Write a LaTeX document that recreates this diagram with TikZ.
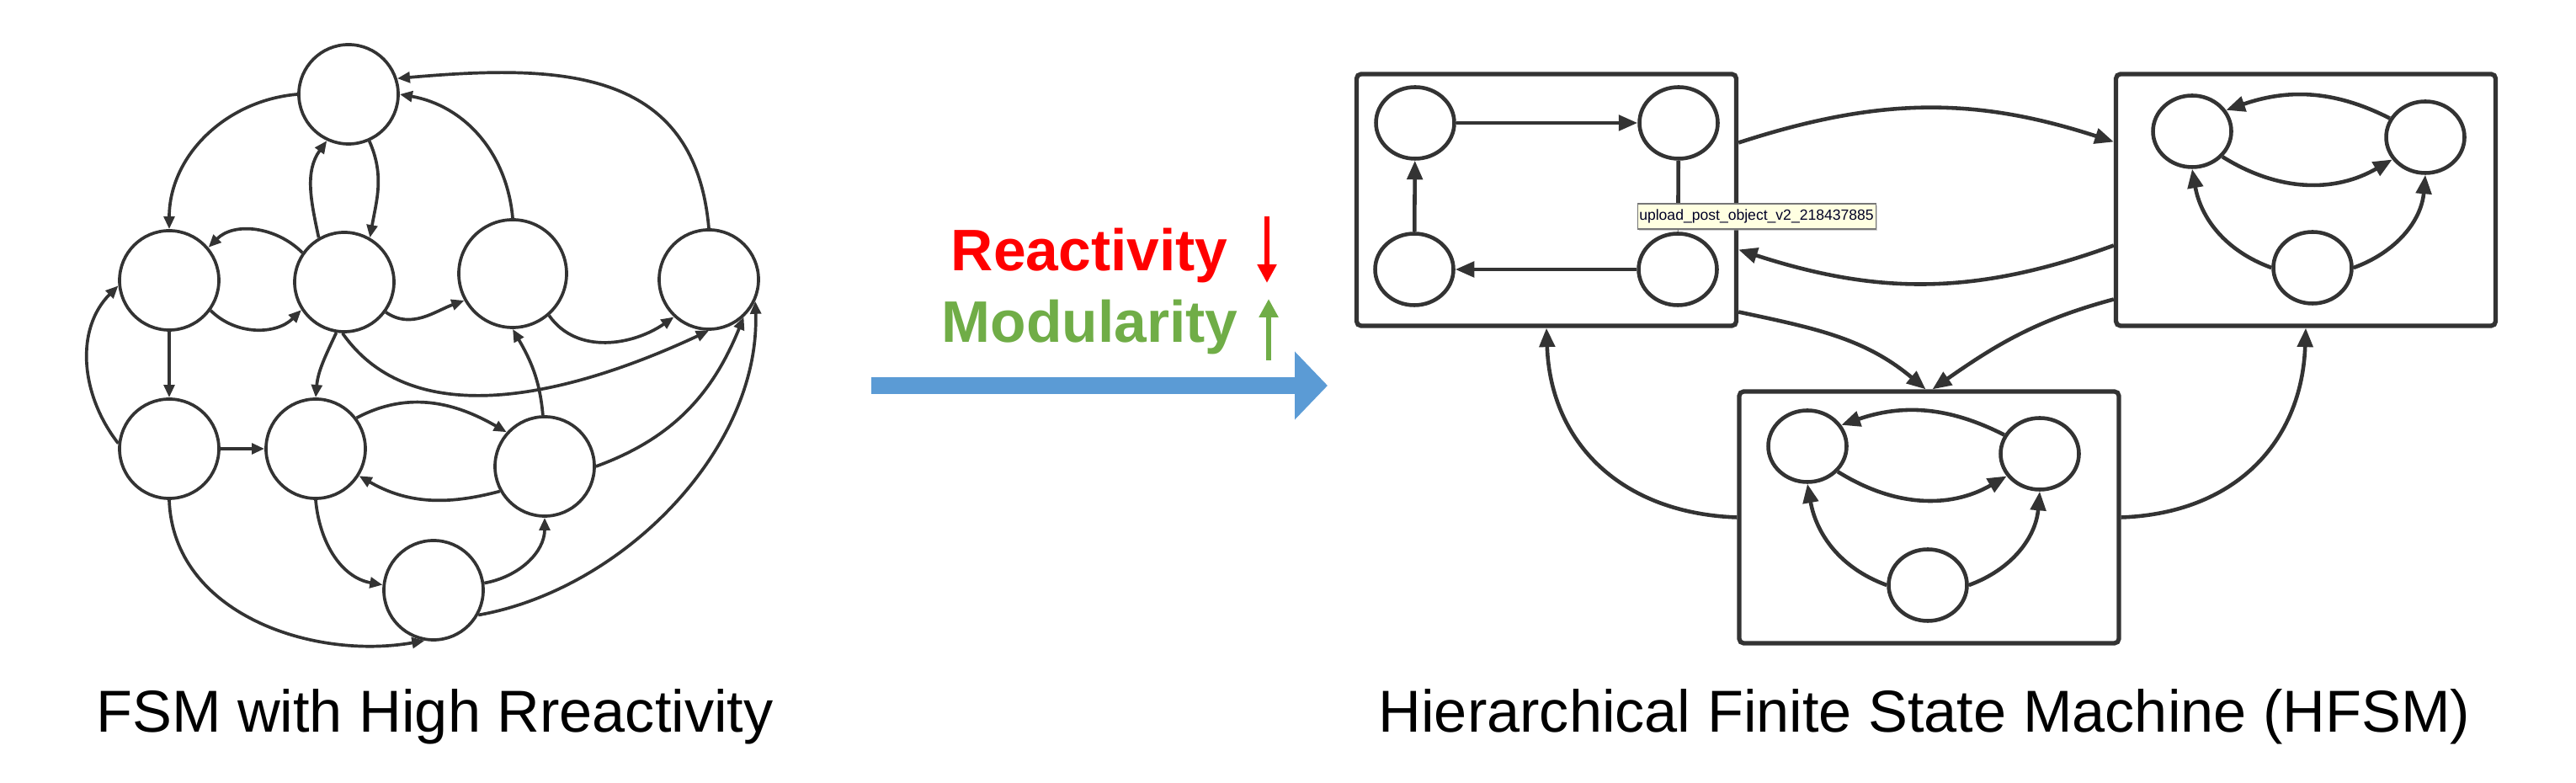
\documentclass[tikz,border=0pt]{standalone}
\usepackage{fontspec}
\setmainfont{Liberation Sans}
\usetikzlibrary{arrows.meta,positioning,shapes.geometric,shadows}

\definecolor{linegray}{HTML}{333333}
\definecolor{flowblue}{HTML}{5B9BD5}
\definecolor{modgreen}{HTML}{70AD47}
\definecolor{tipyellow}{HTML}{FFFFE1}
\definecolor{tipborder}{HTML}{767676}

\begin{document}
\begin{tikzpicture}[
    fsm/.style={circle, draw=linegray, fill=white, line width=1.05pt, minimum size=1.18cm, inner sep=0pt},
    fsmarrow/.style={-{Triangle[length=4.3pt, width=3.6pt]}, line width=1.05pt, draw=linegray},
    box/.style={draw=linegray, line width=1.5pt, rounded corners=1.5pt, minimum width=4.51cm, minimum height=2.99cm, inner sep=0pt},
    sub/.style={ellipse, draw=linegray, line width=1.3pt, minimum width=0.93cm, minimum height=0.85cm, inner sep=0pt},
    harrow/.style={-{Triangle[length=6.4pt, width=5.2pt]}, line width=1.3pt, draw=linegray},
    caption/.style={font=\fontsize{20}{24}\selectfont, anchor=base},
    trend/.style={font=\fontsize{19.8}{24}\selectfont\bfseries, anchor=base east},
    tooltip/.style={draw=tipborder, fill=tipyellow, line width=0.3pt, font=\fontsize{5}{6}\selectfont, text=black!85!blue, minimum width=2.83cm, minimum height=0.3cm, inner sep=0pt, drop shadow={shadow xshift=0.5pt, shadow yshift=-0.5pt, fill=black!35}}
]
    \useasboundingbox (0,0) rectangle (30.6,9.3);

    % FSM states
    \node[fsm] (t) at (4.14, 8.18) {};
    \node[fsm] (a) at (2.01, 5.97) {};
    \node[fsm] (b) at (4.09, 5.95) {};
    \node[fsm, minimum size=1.28cm] (c) at (6.09, 6.05) {};
    \node[fsm] (d) at (8.42, 5.98) {};
    \node[fsm] (e) at (2.01, 3.97) {};
    \node[fsm] (f) at (3.75, 3.97) {};
    \node[fsm] (g) at (6.47, 3.76) {};
    \node[fsm] (h) at (5.15, 2.29) {};

    % FSM transitions
    \draw[fsmarrow] (t.west) to[out=185, in=90] (a.north);
    \draw[fsmarrow] (b.120) to[out=102, in=234] (t.245);
    \draw[fsmarrow] (t.-66) to[out=-66, in=80] (b.60);
    \draw[fsmarrow] (b.145) to[out=135, in=45] (a.40);
    \draw[fsmarrow] (a.-36) to[out=-45, in=225] (b.213);
    \draw[fsmarrow] (c.north) to[out=95, in=-10] (t.east);
    \draw[fsmarrow] (d.north) to[out=95, in=5, looseness=1.2] (t.18);
    \draw[fsmarrow] (b.-36) to[out=-35, in=200] (c.209);
    \draw[fsmarrow] (c.-49) to[out=-55, in=215] (d.227);
    \draw[fsmarrow] (b.-92) to[out=-55, in=-155, looseness=0.92] (d.south);
    \draw[fsmarrow] (b.-99) to[out=-115, in=85] (f.north);
    \draw[fsmarrow] (a) -- (e);
    \draw[fsmarrow] (e.174) to[out=128, in=225] (a.186);
    \draw[fsmarrow] (e) -- (f);
    \draw[fsmarrow] (f.37) to[out=28, in=150] (g.138);
    \draw[fsmarrow] (g.209) to[out=195, in=-30] (f.-32);
    \draw[fsmarrow] (g.92) to[out=95, in=-60] (c.south);
    \draw[fsmarrow] (f.south) to[out=-85, in=170] (h.174);
    \draw[fsmarrow] (h.8) to[out=10, in=-90] (g.south);
    \draw[fsmarrow] (e.south) to[out=-88, in=190] (h.-100);
    \draw[fsmarrow] (g.east) to[out=20, in=-112] (d.-47);
    \draw[fsmarrow] (h.-29) to[out=10, in=-88, looseness=0.9] (d.-25);

    % Trend labels and flow arrow
    \node[trend, text=red] (react) at (14.71, 6.08) {Reactivity};
    \node[trend, text=modgreen] (modul) at (14.83, 5.23) {Modularity};
    \coordinate (rtop) at (15.05, 6.73);
    \coordinate (rbot) at (15.05, 5.94);
    \coordinate (mbot) at (15.07, 5.02);
    \coordinate (mtop) at (15.07, 5.75);
    \draw[red, line width=1.7pt, -{Triangle[length=6.2pt, width=6.2pt]}] (rtop) -- (rbot);
    \draw[modgreen, line width=1.7pt, -{Triangle[length=6.2pt, width=6.2pt]}] (mbot) -- (mtop);
    \coordinate (flowL) at (10.35, 4.72);
    \coordinate (flowR) at (15.77, 4.72);
    \draw[flowblue, line width=5.7pt, -{Triangle[length=11.1pt, width=22.4pt]}] (flowL) -- (flowR);

    % HFSM super states
    \node[box] (b1) at (18.37, 6.925) {};
    \node[box] (b2) at (27.39, 6.925) {};
    \node[box] (b3) at (22.915, 3.155) {};

    % Sub states
    \node[sub] (p1) at (16.81, 7.84) {};
    \node[sub] (p2) at (19.94, 7.84) {};
    \node[sub] (p3) at (16.80, 6.10) {};
    \node[sub] (p4) at (19.93, 6.10) {};
    \node[sub] (q1) at (26.04, 7.74) {};
    \node[sub] (q2) at (28.81, 7.67) {};
    \node[sub] (q3) at (27.47, 6.12) {};
    \node[sub] (r1) at (21.47, 4.00) {};
    \node[sub] (r2) at (24.23, 3.91) {};
    \node[sub] (r3) at (22.90, 2.35) {};

    % Inner transitions
    \draw[harrow] (p1) -- (p2);
    \draw[harrow] (p2) -- (p4);
    \draw[harrow] (p4) -- (p3);
    \draw[harrow] (p3) -- (p1);
    \draw[harrow] (q2.152) to[out=153, in=19] (q1.32);
    \draw[harrow] (q1.-40) to[out=-32, in=210] (q2.214);
    \draw[harrow] (q3.west) to[out=160, in=-80] (q1.south);
    \draw[harrow] (q3.east) to[out=20, in=-95] (q2.south);
    \draw[harrow] (r2.152) to[out=153, in=19] (r1.32);
    \draw[harrow] (r1.-40) to[out=-32, in=210] (r2.214);
    \draw[harrow] (r3.west) to[out=160, in=-80] (r1.south);
    \draw[harrow] (r3.east) to[out=20, in=-95] (r2.south);

    % Transitions between super states
    \draw[harrow] ([yshift=6.8mm]b1.east) to[out=18, in=162] ([yshift=6.9mm]b2.west);
    \draw[harrow] ([yshift=-5.4mm]b2.west) to[out=200, in=-18] ([yshift=-5.9mm]b1.east);
    \draw[harrow] ([yshift=-13.3mm]b1.east) to[out=-12, in=140] ([xshift=-0.4mm]b3.north);
    \draw[harrow] ([yshift=-11.8mm]b2.west) to[out=195, in=35] ([xshift=0.4mm]b3.north);
    \draw[harrow] (b3.west) to[out=178, in=-88, looseness=1.1] (b1.south);
    \draw[harrow] (b3.east) to[out=2, in=-92, looseness=1.1] (b2.south);

    \node[tooltip] (tip) at (20.865, 6.73) {upload\_post\_object\_v2\_218437885};

    % Captions
    \node[caption] (fsmcap) at (5.165, 0.60) {FSM with High Rreactivity};
    \node[caption] (hfsmcap) at (22.86, 0.60) {Hierarchical Finite State Machine (HFSM)};
\end{tikzpicture}
\end{document}
